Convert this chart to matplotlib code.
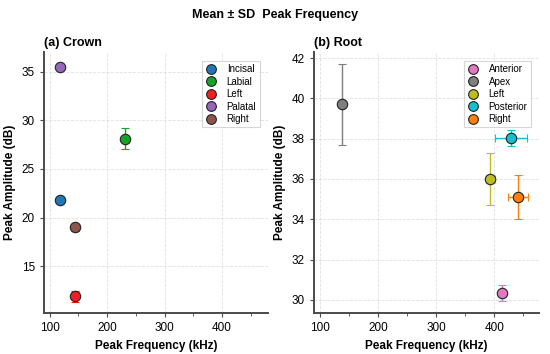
import matplotlib
matplotlib.use("Agg")
import matplotlib.pyplot as plt
from matplotlib.ticker import MultipleLocator
from matplotlib.lines import Line2D

plt.rcParams["font.family"] = ["Liberation Sans", "DejaVu Sans"]

# (a) Crown
crown_labels = ["Incisal", "Labial", "Left", "Palatal", "Right"]
crown_freq = [118, 231, 144, 118, 144]
crown_freq_sd = [0, 5, 3, 0, 3]
crown_amp = [21.8, 28.1, 11.9, 35.5, 19.0]
crown_amp_sd = [0, 1.1, 0.6, 0, 0.35]
crown_colors = ["#1f77b4", "#16a32a", "#ee2020", "#9467bd", "#8c564b"]

# (b) Root
root_labels = ["Anterior", "Apex", "Left", "Posterior", "Right"]
root_freq = [413, 138, 393, 429, 441]
root_freq_sd = [5, 0, 8, 28, 17]
root_amp = [30.35, 39.7, 36.0, 38.05, 35.1]
root_amp_sd = [0.4, 2.0, 1.3, 0.4, 1.1]
root_colors = ["#e377c2", "#7f7f7f", "#bcbd22", "#17becf", "#ff7f0e"]


def draw_panel(ax, labels, freq, freq_sd, amp, amp_sd, colors, title, xlim, ylim, ystep):
    handles = []
    for lab, x, xe, y, ye, c in zip(labels, freq, freq_sd, amp, amp_sd, colors):
        ax.errorbar(x, y, xerr=xe if xe else None, yerr=ye if ye else None,
                    fmt="o", color=c, ecolor=c, elinewidth=1.0, capsize=3,
                    capthick=1.0, markersize=7.5, markeredgecolor="#222222",
                    markeredgewidth=0.8, zorder=3)
        handles.append(Line2D([], [], marker="o", linestyle="none", color=c,
                              markersize=7, markeredgecolor="#222222",
                              markeredgewidth=0.8, label=lab))
    ax.set_xlim(*xlim)
    ax.set_ylim(*ylim)
    ax.xaxis.set_major_locator(MultipleLocator(100))
    ax.xaxis.set_minor_locator(MultipleLocator(50))
    ax.yaxis.set_major_locator(MultipleLocator(ystep))
    ax.grid(True, which="major", linestyle="--", linewidth=0.6, color="#e0e0e0")
    for side in ("top", "right"):
        ax.spines[side].set_visible(False)
    for side in ("left", "bottom"):
        ax.spines[side].set_color("#4a4a4a")
        ax.spines[side].set_linewidth(1.4)
    ax.tick_params(which="major", direction="out", length=3, labelsize=8.5, color="#4a4a4a")
    ax.tick_params(which="minor", direction="out", length=2, color="#4a4a4a")
    ax.set_xlabel("Peak Frequency (kHz)", fontsize=8.5, fontweight="bold")
    ax.set_ylabel("Peak Amplitude (dB)", fontsize=8.5, fontweight="bold")
    ax.set_title(title, loc="left", fontsize=9, fontweight="bold", pad=4)
    leg = ax.legend(handles=handles, loc="upper right", fontsize=7, frameon=True,
                    borderpad=0.35, handlelength=1.2, handletextpad=1.0,
                    labelspacing=0.25, fancybox=False,
                    bbox_to_anchor=(0.985, 0.985))
    leg.get_frame().set_edgecolor("#cccccc")
    leg.get_frame().set_linewidth(0.8)


fig = plt.figure(figsize=(5.5, 3.54), dpi=100)
ax1 = fig.add_axes([0.08, 0.116, 0.407, 0.737])
ax2 = fig.add_axes([0.571, 0.116, 0.409, 0.737])

draw_panel(ax1, crown_labels, crown_freq, crown_freq_sd, crown_amp, crown_amp_sd,
           crown_colors, "(a) Crown", (90, 480), (10.2, 37), 5)
draw_panel(ax2, root_labels, root_freq, root_freq_sd, root_amp, root_amp_sd,
           root_colors, "(b) Root", (90, 477), (29.35, 42.3), 2)

fig.suptitle("Mean ± SD  Peak Frequency", fontsize=9, fontweight="bold", y=0.975)
fig.savefig("out.png", dpi=100)
